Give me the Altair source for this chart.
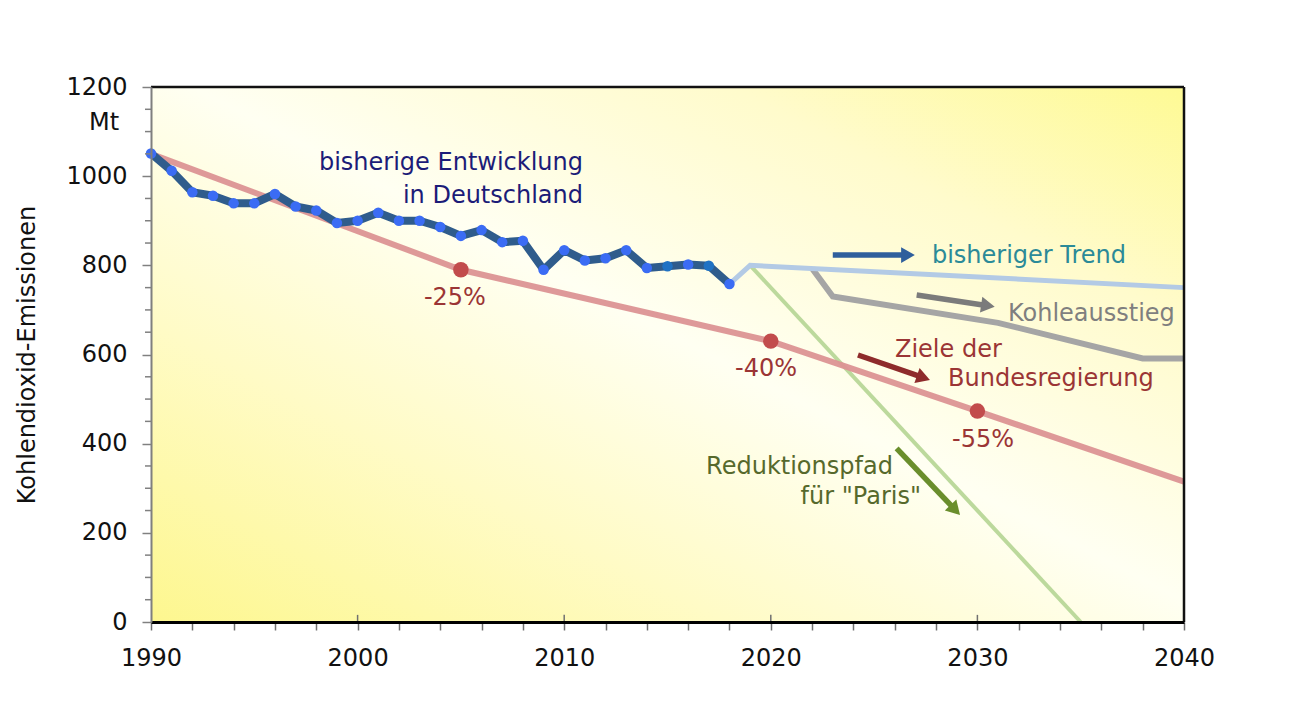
import math
import altair as alt
import pandas as pd

# ---------------- data ----------------
hist_years = list(range(1990, 2019))
hist_values = [1051, 1012, 964, 956, 939, 939, 960, 932, 923, 895, 900, 918, 900, 900, 886,
               866, 879, 852, 855, 790, 834, 811, 816, 834, 794, 798, 802, 799, 758]

target_years = [1990, 2005, 2020, 2030, 2040]
target_values = [1050, 790, 630, 473, 315]
target_dot_years = [2005, 2020, 2030]
target_dot_values = [790, 630, 473]
target_dot_labels = ["-25%", "-40%", "-55%"]

trend_years = [2018, 2019, 2040]
trend_values = [758, 800, 750]

coal_years = [2022, 2023, 2031, 2038, 2040]
coal_values = [793, 730, 671, 591, 591]

paris_years = [2019, 2035]
paris_values = [800, 0]

y_major = [0, 200, 400, 600, 800, 1000, 1200]
y_minor = [v for v in range(0, 1201, 50) if v % 200 != 0]
x_ticks = list(range(1990, 2041, 2))
x_inner_ticks = [2000, 2010, 2020, 2030]

# annotation arrows: start (x, y) -> head (x, y), in data units
arrow_names = ["trend", "coal", "gov", "paris"]
arrow_x1 = [2023.0, 2027.06, 2024.22, 2026.09]
arrow_y1 = [823, 733.5, 598.9, 389.6]
arrow_x2 = [2026.64, 2030.51, 2027.39, 2028.93]
arrow_y2 = [823, 709.5, 548.0, 251.4]
arrow_colors = ["#2f5f9c", "#7b7b7b", "#8e2b2b", "#6a8e2c"]

W, H = 1033, 535
FONT = "DejaVu Sans"
FS = 24

# ---------------- shared encodings ----------------
xs = alt.Scale(domain=[1990, 2040], nice=False, zero=False)
ys = alt.Scale(domain=[0, 1200], nice=False, zero=False)

X = alt.X("x:Q", scale=xs, title=None,
          axis=alt.Axis(values=x_ticks, labelExpr="datum.value % 10 == 0 ? datum.label : ''",
                        format="d", tickSize=8, tickColor="#707070", tickWidth=1.5,
                        domainColor="#000000", domainWidth=3, labelFont=FONT,
                        labelFontSize=FS, labelColor="#111111", labelPadding=16,
                        grid=False, zindex=1, labelFlush=False))
Y = alt.Y("y:Q", scale=ys, title="Kohlendioxid-Emissionen",
          axis=alt.Axis(values=y_major, format="d", tickSize=9, tickColor="#808080",
                        tickWidth=1.5, domainColor="#7f7f7f", domainWidth=2, labelFont=FONT,
                        labelFontSize=FS, labelColor="#111111", labelPadding=15,
                        titleFont=FONT, titleFontSize=FS, titleFontWeight="normal",
                        titleColor="#111111", titlePadding=26, grid=False, zindex=1))


def df(xv, yv, **extra):
    d = pd.DataFrame({"x": xv, "y": yv})
    for k, v in extra.items():
        d[k] = v
    return d


# background gradient
bg = alt.Chart(pd.DataFrame({"x": [1990], "x2": [2040], "y": [0], "y2": [1200]})).mark_rect(
    color=alt.LinearGradient(
        gradient="linear", x1=0, y1=1, x2=1, y2=0,
        stops=[alt.GradientStop(color="#fdf78f", offset=0),
               alt.GradientStop(color="#fffbc6", offset=0.28),
               alt.GradientStop(color="#fffff2", offset=0.52),
               alt.GradientStop(color="#fffbcc", offset=0.78),
               alt.GradientStop(color="#fefa94", offset=1)])
).encode(x=X, x2="x2:Q", y=Y, y2="y2:Q")

paris = alt.Chart(df(paris_years, paris_values)).mark_line(
    color="#bcd99c", strokeWidth=4).encode(x=X, y=Y)
target = alt.Chart(df(target_years, target_values)).mark_line(
    color="#dc9393", strokeWidth=6, opacity=0.95).encode(x=X, y=Y)
coal = alt.Chart(df(coal_years, coal_values)).mark_line(
    color="#a5a5a5", strokeWidth=6).encode(x=X, y=Y)
trend = alt.Chart(df(trend_years, trend_values)).mark_line(
    color="#b3cae5", strokeWidth=5).encode(x=X, y=Y)
hist_line = alt.Chart(df(hist_years, hist_values)).mark_line(
    color="#2f5c8c", strokeWidth=8, strokeJoin="round").encode(x=X, y=Y)
hist_pts = alt.Chart(df(hist_years, hist_values)).mark_circle(size=110, opacity=1).encode(
    x=X, y=Y,
    color=alt.condition("datum.x == 2015 || datum.x == 2017",
                        alt.value("#1f72c4"), alt.value("#3b6cf4")))
target_dots = alt.Chart(df(target_dot_years, target_dot_values)).mark_circle(
    size=240, opacity=1, color="#c24c4c").encode(x=X, y=Y)

# arrows
arr = pd.DataFrame({"name": arrow_names, "x": arrow_x1, "y": arrow_y1,
                    "x2": arrow_x2, "y2": arrow_y2, "col": arrow_colors})
arr["ang"] = [
    (math.degrees(math.atan2(-(b2 - b1) * H / 1200.0, (a2 - a1) * W / 50.0)) + 360) % 360
    for a1, b1, a2, b2 in zip(arrow_x1, arrow_y1, arrow_x2, arrow_y2)
]
arrow_shafts = alt.Chart(arr).mark_rule(strokeWidth=5.5).encode(
    x=X, y=Y, x2="x2:Q", y2="y2:Q", color=alt.Color("col:N", scale=None))
arrow_heads = alt.Chart(arr).mark_point(shape="triangle-right", filled=True, size=250,
                                        opacity=1).encode(
    x=alt.X("x2:Q", scale=xs), y=alt.Y("y2:Q", scale=ys),
    angle=alt.Angle("ang:Q", scale=None), color=alt.Color("col:N", scale=None))


def text_layer(xv, yv, labels, color, align):
    return alt.Chart(df(xv, yv, t=labels)).mark_text(
        font=FONT, fontSize=FS, color=color, align=align, baseline="middle").encode(
        x=X, y=Y, text="t:N")


txt_hist = text_layer([2010.91, 2010.91], [1029.6, 955.5],
                      ["bisherige Entwicklung", "in Deutschland"], "#1c1c78", "right")
txt_pct = text_layer([2004.71, 2019.77, 2030.27], [726.7, 567.5, 408.2],
                     target_dot_labels, "#9b3535", "center")
txt_trend = text_layer([2027.8], [821], ["bisheriger Trend"], "#2b8a98", "left")
txt_coal = text_layer([2031.48], [690.9], ["Kohleausstieg"], "#7f7f7f", "left")
txt_gov = text_layer([2026.01, 2028.58], [610.1, 545.0],
                     ["Ziele der", "Bundesregierung"], "#9b3535", "left")
txt_paris = text_layer([2025.91, 2027.27], [347.7, 280.4],
                       ["Reduktionspfad", "für \"Paris\""], "#56692c", "right")
txt_unit = text_layer([1987.73], [1119.3], ["Mt"], "#111111", "center")

# minor ticks on y axis, inner major ticks on x axis
y_minor_ticks = alt.Chart(df([1990] * len(y_minor), y_minor)).mark_rule(
    color="#808080", strokeWidth=1.5).encode(x=alt.value(-6), x2=alt.value(0), y=Y)
x_inner = alt.Chart(df(x_inner_ticks, [0] * 4, y2=[16] * 4)).mark_rule(
    color="#707070", strokeWidth=1.5).encode(x=X, y=Y, y2="y2:Q")

# frame (top and right)
frame_top = alt.Chart(pd.DataFrame({"x": [1990], "x2": [2040], "y": [1200]})).mark_rule(
    color="#111111", strokeWidth=2.5).encode(x=X, x2="x2:Q", y=Y)
frame_right = alt.Chart(pd.DataFrame({"x": [2040], "y": [0], "y2": [1200]})).mark_rule(
    color="#111111", strokeWidth=2.5).encode(x=X, y=Y, y2="y2:Q")

chart = alt.layer(
    bg, paris, target, coal, trend, hist_line, hist_pts, target_dots,
    arrow_shafts, arrow_heads,
    txt_hist, txt_pct, txt_trend, txt_coal, txt_gov, txt_paris, txt_unit,
    y_minor_ticks, x_inner, frame_top, frame_right
).properties(
    width=W, height=H,
    autosize=alt.AutoSizeParams(type="none"),
    padding={"left": 143, "top": 79, "right": 120, "bottom": 75},
    background="#ffffff",
).configure_view(strokeWidth=0)

chart.save("out.html", embed_options={"renderer": "svg", "actions": False})
